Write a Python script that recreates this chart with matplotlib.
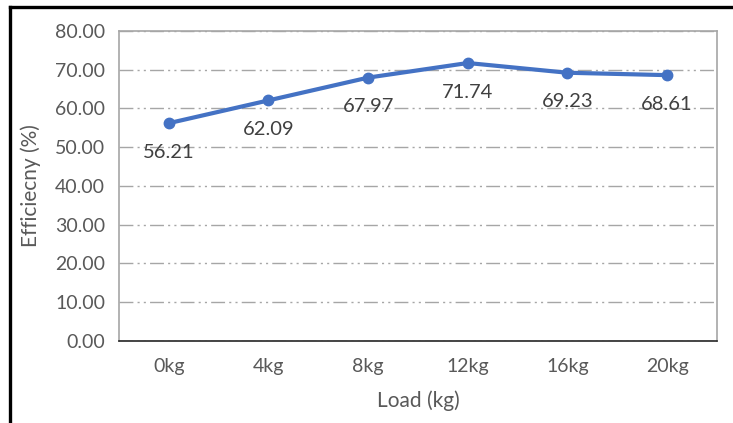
import matplotlib.pyplot as plt
from matplotlib.lines import Line2D

loads = ['0kg', '4kg', '8kg', '12kg', '16kg', '20kg']
efficiency = [56.21, 62.09, 67.97, 71.74, 69.23, 68.61]
y_ticks = [0, 10, 20, 30, 40, 50, 60, 70, 80]

plt.rcParams['font.family'] = ['Lato', 'DejaVu Sans']

fig = plt.figure(figsize=(7.33, 4.23), dpi=100)
ax = fig.add_axes([0.1623, 0.1939, 0.8157, 0.7328])

x = list(range(len(loads)))
ax.plot(x, efficiency, color='#4472C4', linewidth=3.0, marker='o',
        markersize=7.5, zorder=3)

# data labels below points
for xi, v in zip(x, efficiency):
    ax.annotate(f'{v:.2f}', (xi, v), xytext=(0, -21), textcoords='offset points',
                ha='center', va='center', fontsize=14.5, color='#404040', zorder=4)

ax.set_xlim(-0.5, len(loads) - 0.5)
ax.set_ylim(0, 80)
ax.set_xticks(x)
ax.set_xticklabels(loads)
ax.set_yticks(y_ticks)
ax.set_yticklabels([f'{t:.2f}' for t in y_ticks])
ax.tick_params(axis='both', length=0, labelsize=14, colors='#595959')
ax.tick_params(axis='x', pad=12)
ax.tick_params(axis='y', pad=10)

ax.yaxis.grid(True, color='#A6A6A6', linewidth=1.0,
              linestyle=(0, (10, 3, 1.5, 3, 1.5, 3)))
ax.set_axisbelow(True)

for side in ['left', 'top', 'right']:
    ax.spines[side].set_color('#A6A6A6')
    ax.spines[side].set_linewidth(1.2)
ax.spines['bottom'].set_color('#262626')
ax.spines['bottom'].set_linewidth(1.2)

ax.set_xlabel('Load (kg)', fontsize=15, color='#595959', labelpad=11)
ax.set_ylabel('Efficiecny (%)', fontsize=15, color='#595959', labelpad=10)

# outer border (only left and top visible in the crop)
fig.add_artist(Line2D([9.5 / 733, 9.5 / 733], [0, 1 - 7 / 423],
                      transform=fig.transFigure, color='black', linewidth=2.4,
                      solid_capstyle='projecting'))
fig.add_artist(Line2D([9.5 / 733, 1], [1 - 7 / 423, 1 - 7 / 423],
                      transform=fig.transFigure, color='black', linewidth=2.4,
                      solid_capstyle='projecting'))

fig.savefig('out.png', dpi=100)
